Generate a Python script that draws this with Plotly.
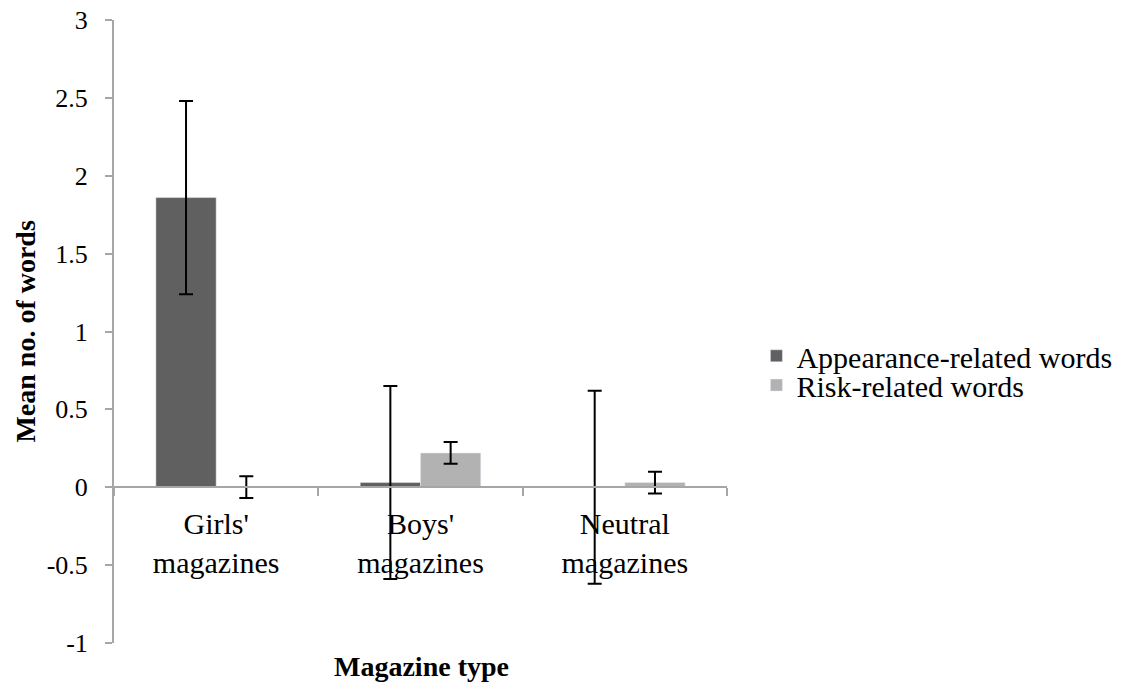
import plotly.graph_objects as go

categories = ["Girls'<br>magazines", "Boys'<br>magazines", "Neutral<br>magazines"]
appearance = [1.86, 0.03, 0.0]
appearance_err = [0.62, 0.62, 0.62]
risk = [0.0, 0.22, 0.03]
risk_err = [0.07, 0.07, 0.07]
y_ticks = [-1, -0.5, 0, 0.5, 1, 1.5, 2, 2.5, 3]

FONT = 'Liberation Serif'
AXIS_GREY = '#a6a6a6'

fig = go.Figure()

fig.add_trace(go.Bar(
    x=categories,
    y=appearance,
    name='Appearance-related words',
    legend='legend',
    showlegend=True,
    marker=dict(color='#606060'),
    error_y=dict(type='data', array=appearance_err, color='black', thickness=2, width=7)
))

fig.add_trace(go.Bar(
    x=categories,
    y=risk,
    name='Risk-related words',
    legend='legend2',
    showlegend=True,
    marker=dict(color='#b2b2b2'),
    error_y=dict(type='data', array=risk_err, color='black', thickness=2, width=7)
))

# one legend per trace so the rows can sit as close as in the original
legend_style = dict(
    xanchor='left', yanchor='middle',
    font=dict(size=30, family=FONT),
    itemwidth=30, bgcolor='rgba(0,0,0,0)'
)

fig.update_layout(
    width=1146,
    height=686,
    margin=dict(l=114, r=419, t=20, b=43, autoexpand=False),
    barmode='group',
    bargap=0.41,
    bargroupgap=0,
    showlegend=True,
    plot_bgcolor='white',
    paper_bgcolor='white',
    font=dict(family=FONT, color='black'),
    legend=dict(x=1.048, y=0.461, **legend_style),
    legend2=dict(x=1.048, y=0.414, **legend_style),
    xaxis=dict(
        anchor='free', position=0.25, automargin=False,
        showline=True, linecolor=AXIS_GREY, linewidth=2,
        ticks='outside', tickson='boundaries', ticklen=8, tickcolor=AXIS_GREY, tickwidth=2,
        ticklabelstandoff=10,
        tickfont=dict(size=30, family=FONT),
        showgrid=False, zeroline=False
    ),
    yaxis=dict(
        range=[-1.0005, 3.0005], tickvals=y_ticks, automargin=False,
        ticktext=[str(v) for v in y_ticks],
        ticklabeloverflow='allow',
        showline=True, linecolor=AXIS_GREY, linewidth=2,
        ticks='outside', ticklen=7, tickcolor=AXIS_GREY, tickwidth=2,
        ticklabelstandoff=12,
        tickfont=dict(size=26, family=FONT),
        showgrid=False, zeroline=False
    ),
    annotations=[
        dict(
            text='<b>Magazine type</b>', x=0.502, y=-0.037, xref='paper', yref='paper',
            xanchor='center', yanchor='middle', showarrow=False,
            font=dict(size=28, family=FONT)
        ),
        dict(
            text='<b>Mean no. of words</b>', x=-0.145, y=0.5, xref='paper', yref='paper',
            xanchor='center', yanchor='middle', showarrow=False, textangle=-90,
            font=dict(size=28, family=FONT)
        )
    ]
)

# drop the default 8px page margin so the figure fills the window
fig.write_html(
    "out.html",
    config={'displayModeBar': False},
    post_script="document.body.style.margin='0';"
)
